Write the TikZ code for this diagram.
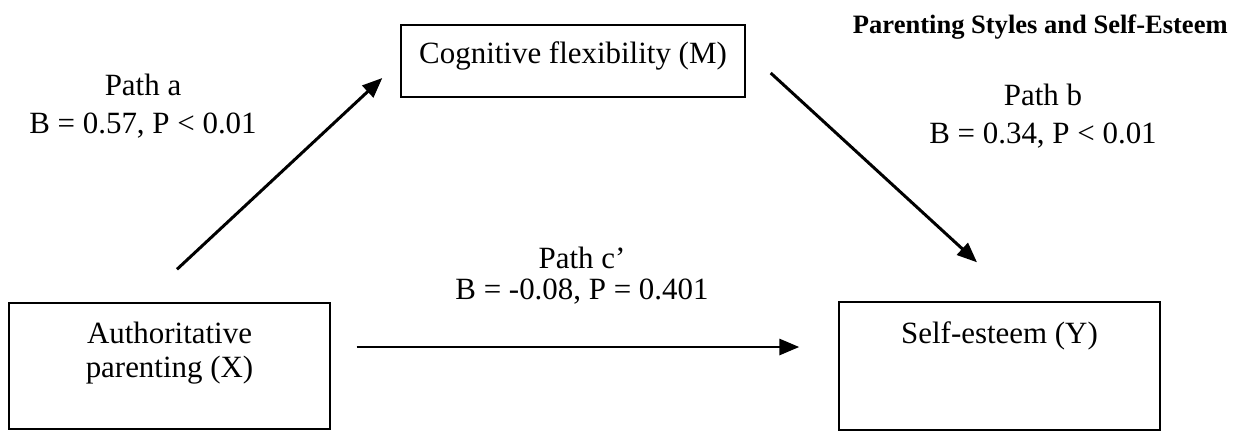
\documentclass[tikz,border=0pt]{standalone}
\usepackage{fontspec}
\setmainfont{Liberation Serif}
\usetikzlibrary{arrows.meta}

\begin{document}
\begin{tikzpicture}[
		var/.style={draw, line width=0.8pt, inner sep=0pt, align=center, font=\fontsize{17.6}{19.3}\selectfont},
		coef/.style={inner sep=0pt, anchor=north, align=center, font=\fontsize{17.6}{21.6}\selectfont},
		effect/.style={-{Triangle[length=0.4cm, width=0.32cm]}, line width=1.7pt}]
		\useasboundingbox (0, 0) rectangle (24.86, 8.62);

		\node[var, minimum width=6.88cm, text height=0.76cm, text depth=0.68cm] (M) at (11.46, 7.40) {Cognitive flexibility (M)};
		\node[var, minimum width=6.42cm, text height=1.48cm, text depth=1.04cm] (X) at (3.39, 1.30) {Authoritative\\parenting (X)};
		\node[var, minimum width=6.42cm, text height=0.82cm, text depth=1.74cm] (Y) at (19.99, 1.30) {Self-esteem (Y)};

		\coordinate[shift={(0.15, 0.66)}]   (a0) at (X.north);
		\coordinate[shift={(-0.36, -0.34)}] (a1) at (M.west);
		\coordinate[shift={(0.50, -0.24)}]  (b0) at (M.east);
		\coordinate[shift={(-0.45, 0.78)}]  (b1) at (Y.north);
		\coordinate[shift={(0.52, 0.38)}]   (c0) at (X.east);
		\coordinate[shift={(-0.78, 0.38)}]  (c1) at (Y.west);

		\draw[effect] (a0) -- (a1);
		\draw[effect] (b0) -- (b1);
		\draw[effect] (c0) -- (c1);

		\node[coef] (La) at (2.86, 7.14)  {Path a\\B = 0.57, P < 0.01};
		\node[coef] (Lb) at (20.86, 6.94) {Path b\\B = 0.34, P < 0.01};
		\node[coef, font=\fontsize{17.6}{17.6}\selectfont] (Lc) at (11.64, 3.68) {Path c’\\B = -0.08, P = 0.401};

		\node[inner sep=0pt, anchor=north east, font=\bfseries\fontsize{15.1}{18}\selectfont] (Title) at (24.56, 8.34) {Parenting Styles and Self-Esteem};
	\end{tikzpicture}
\end{document}
